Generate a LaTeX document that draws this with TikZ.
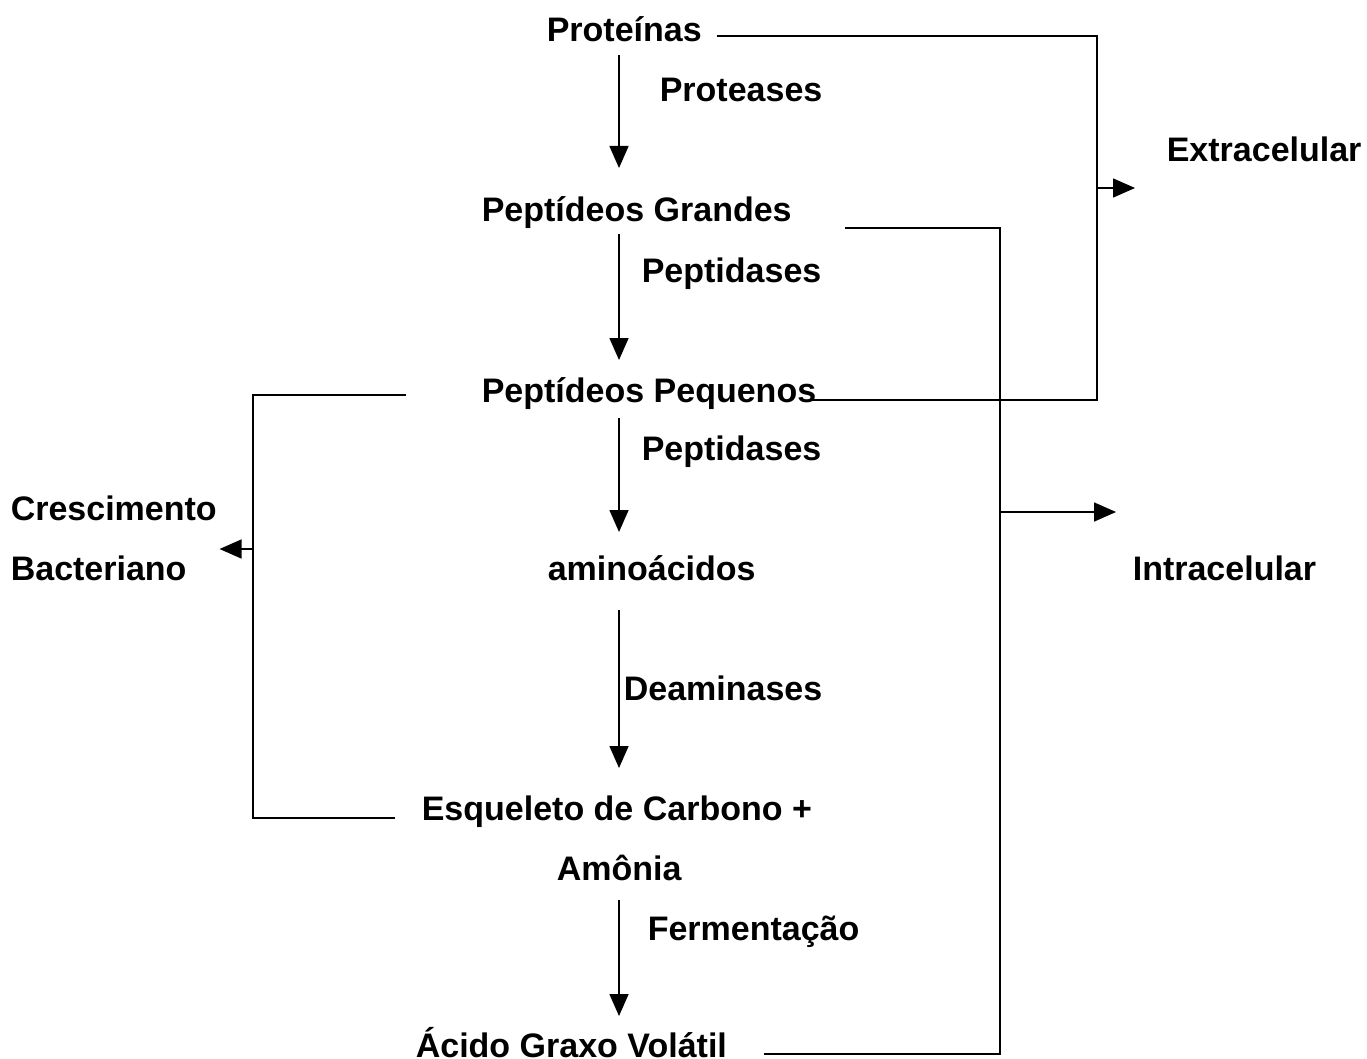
\documentclass[tikz,border=0pt]{standalone}
\usepackage{fontspec}
\setmainfont{Liberation Sans}
\usetikzlibrary{arrows.meta}
\tikzset{
            txt/.style={inner sep=0pt, anchor=base west, font=\bfseries\fontsize{34}{40}\selectfont},
            flow/.style={-{Triangle[width=19pt,length=22pt]}}
        }
\begin{document}
\begin{tikzpicture}[
                    x=1pt, y=-1pt,
                    line width=1.6pt
                    ]
                \useasboundingbox (0,0) rectangle (1367,1059);
                \node[txt] (prot) at (546,42) {Proteínas};
                \node[txt] (ptase) at (659,102) {Proteases};
                \node[txt] (ext) at (1166,162) {Extracelular};
                \node[txt] (pgr) at (481,222) {Peptídeos Grandes};
                \node[txt] (pdase1) at (641,282) {Peptidases};
                \node[txt] (pqn) at (481,402) {Peptídeos Pequenos};
                \node[txt] (pdase2) at (641,460) {Peptidases};
                \node[txt] (cresc) at (10,520) {Crescimento};
                \node[txt] (bact) at (10,580) {Bacteriano};
                \node[txt] (amino) at (547,580) {aminoácidos};
                \node[txt] (intra) at (1132,580) {Intracelular};
                \node[txt] (deam) at (623,700) {Deaminases};
                \node[txt] (esq) at (421,820) {Esqueleto de Carbono +};
                \node[txt] (amon) at (556,880) {Amônia};
                \node[txt] (ferm) at (647,940) {Fermentação};
                \node[txt] (agv) at (415,1057) {Ácido Graxo Volátil};
                \coordinate (spine) at (619,0);
                \coordinate (exmid) at (1097,188);
                \coordinate (exbar) at (1097,400);
                \coordinate (inmid) at (1000,512);
                \coordinate (inbar) at (1000,1054);
                \coordinate (crmid) at (253,549);
                \coordinate (crbar) at (253,818);
                \draw[flow] ([yshift=-13pt]prot.base -| spine) -- ([yshift=54pt]pgr.base -| spine);
                \draw[flow] ([yshift=-12pt]pgr.base -| spine) -- ([yshift=42pt]pqn.base -| spine);
                \draw[flow] ([yshift=-16pt]pqn.base -| spine) -- ([yshift=48pt]amino.base -| spine);
                \draw[flow] ([yshift=-30pt]amino.base -| spine) -- ([yshift=52pt]esq.base -| spine);
                \draw[flow] ([yshift=-20pt]amon.base -| spine) -- ([yshift=41pt]agv.base -| spine);
                \draw ([shift={(14pt,6pt)}]prot.base east) -| (exbar) -- ([shift={(-6pt,2pt)}]pqn.base east);
                \draw[flow] (exmid) -- ([xshift=-31pt]exmid -| ext.west);
                \draw ([shift={(53pt,-6pt)}]pgr.base east) -| (inbar) -- ([shift={(36pt,3pt)}]agv.base east);
                \draw[flow] (inmid) -- ([xshift=-16pt]inmid -| intra.west);
                \draw ([shift={(-75pt,7pt)}]pqn.base west) -| (crbar) -- ([shift={(-26pt,2pt)}]esq.base west);
                \draw[flow] (crmid) -- ([xshift=2pt]crmid -| cresc.east);
            \end{tikzpicture}
\end{document}
